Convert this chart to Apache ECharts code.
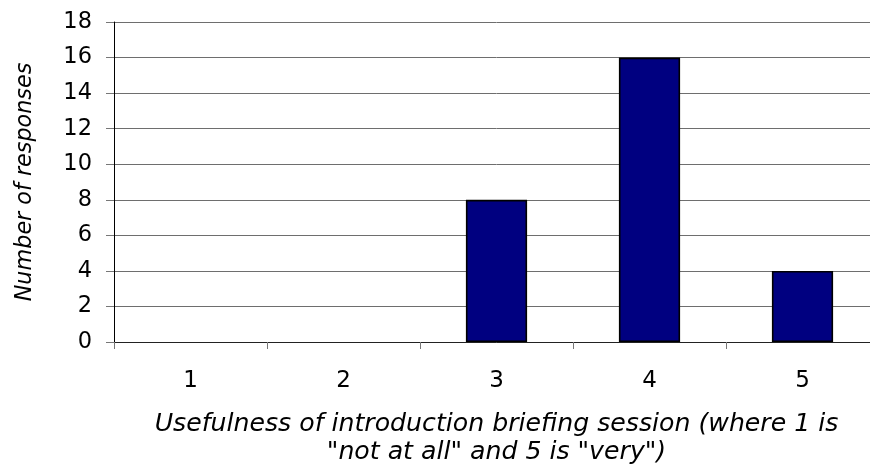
<!DOCTYPE html>
<html><head><meta charset="utf-8">
<script src="https://cdn.jsdelivr.net/npm/echarts@6/dist/echarts.min.js"></script>
<style>html,body{margin:0;padding:0;background:#fff;overflow:hidden;width:870px;height:471px}#c{width:880px;height:471px}</style>
</head><body><div id="c"></div>
<script>
var categories = ['1', '2', '3', '4', '5'];
var responses = [0, 0, 8, 16, 4];
var xTitle = 'Usefulness of introduction briefing session (where 1 is\n"not at all" and 5 is "very")';
var yTitle = 'Number of responses';

var font = '"DejaVu Sans", Verdana, sans-serif';
var chart = echarts.init(document.getElementById('c'), null, {renderer: 'canvas'});
chart.setOption({
  animation: false,
  grid: {left: 114, top: 22, width: 765, height: 321, containLabel: false},
  xAxis: {
    type: 'category', data: categories,
    axisLine: {lineStyle: {color: '#222', width: 1}},
    axisTick: {show: true, length: 7, inside: false, lineStyle: {color: '#777'}},
    axisLabel: {color: '#000', fontSize: 23, fontFamily: font, margin: 28},
    name: xTitle, nameLocation: 'middle', nameGap: 68,
    nameTextStyle: {color: '#000', fontSize: 25.2, fontStyle: 'italic', fontFamily: font, lineHeight: 28}
  },
  yAxis: {
    type: 'value', min: 0, max: 18, interval: 2,
    axisLine: {show: true, lineStyle: {color: '#000', width: 1}},
    axisTick: {show: true, length: 8, lineStyle: {color: '#777'}},
    splitLine: {lineStyle: {color: '#6e6e6e', width: 1}},
    axisLabel: {color: '#000', fontSize: 22.5, fontFamily: font, margin: 22},
    name: yTitle, nameLocation: 'middle', nameGap: 78, nameRotate: 90,
    nameTextStyle: {color: '#000', fontSize: 22.3, fontStyle: 'italic', fontFamily: font}
  },
  series: [{
    type: 'bar', barWidth: '40%',
    data: responses.map(function (v) { return v === 0 ? {value: v, itemStyle: {borderWidth: 0}} : v; }),
    itemStyle: {color: '#000080', borderColor: '#000', borderWidth: 1.6}
  }]
});
</script></body></html>
